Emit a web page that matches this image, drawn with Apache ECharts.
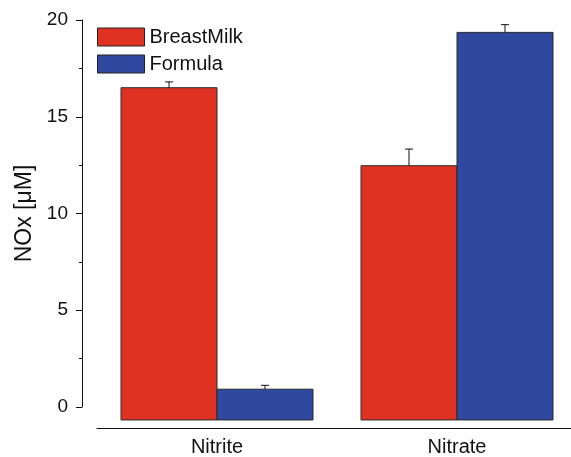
<!DOCTYPE html>
<html>
<head>
<meta charset="utf-8">
<script src="https://cdn.jsdelivr.net/npm/echarts@6/dist/echarts.min.js"></script>
<style>
    html, body { margin: 0; padding: 0; background: #fff; }
    #chart { width: 571px; height: 457px; }
</style>
</head>
<body>
<div id="chart"></div>
<script>
// 数据
const categories = ['Nitrite', 'Nitrate']
const seriesNames = ['BreastMilk', 'Formula']
const breastMilk = [16.5, 12.47]
const breastMilkErr = [0.3, 0.86]
const formula = [0.92, 19.36]
const formulaErr = [0.2, 0.4]
const yTicks = [0, 5, 10, 15, 20]
// bars start a bit below zero, like the original plot
const barBase = -0.67

const colors = ['#DF3223', '#3048A0']
const fontFamily = 'Liberation Sans, Arial, sans-serif'

// 绘制柱子 + 误差线
function makeRender(side, errs) {
    return function (params, api) {
        const idx = api.value(0)
        const val = api.value(1)
        const band = api.size([1, 0])[0]
        const w = band * 0.4
        const center = api.coord([idx, 0])[0]
        const x0 = side === 0 ? center - w : center
        const top = api.coord([idx, val])[1]
        const bottom = api.coord([idx, barBase])[1]
        const errTop = api.coord([idx, val + errs[idx]])[1]
        const mid = x0 + w / 2
        return {
            type: 'group',
            children: [
                {
                    type: 'rect',
                    shape: { x: x0, y: top, width: w, height: bottom - top },
                    style: { fill: colors[side], stroke: '#2a2a2a', lineWidth: 1 }
                },
                {
                    type: 'line',
                    shape: { x1: mid, y1: top, x2: mid, y2: errTop },
                    style: { stroke: '#111', lineWidth: 1 }
                },
                {
                    type: 'line',
                    shape: { x1: mid - 4, y1: errTop, x2: mid + 4, y2: errTop },
                    style: { stroke: '#111', lineWidth: 1 }
                }
            ]
        }
    }
}

let myChart = echarts.init(document.getElementById('chart'))

let option = {
    animation: false,
    grid: {
        left: 97,
        width: 480,
        top: 20,
        bottom: 50,
        outerBoundsMode: 'none'
    },
    legend: {
        orient: 'vertical',
        left: 92,
        top: 22,
        itemWidth: 47,
        itemHeight: 18,
        itemGap: 7,
        icon: 'rect',
        data: seriesNames,
        itemStyle: { borderColor: '#222', borderWidth: 1 },
        textStyle: {
            fontSize: 20,
            color: '#111',
            fontFamily: fontFamily
        }
    },
    xAxis: {
        type: 'category',
        data: categories,
        offset: 21,
        axisLine: { onZero: false, lineStyle: { color: '#111', width: 1 } },
        axisTick: { alignWithLabel: true, length: 7, lineStyle: { color: '#111' } },
        axisLabel: { color: '#111', fontSize: 20, fontFamily: fontFamily, margin: 9 },
        splitLine: { show: false }
    },
    yAxis: {
        type: 'value',
        min: yTicks[0],
        max: yTicks[yTicks.length - 1],
        interval: 5,
        offset: 15,
        name: 'NOx [μM]',
        nameLocation: 'middle',
        nameGap: 45,
        nameTextStyle: { color: '#111', fontSize: 23, fontFamily: fontFamily },
        axisLine: { show: true, lineStyle: { color: '#111', width: 1 } },
        axisTick: { show: true, length: 6, lineStyle: { color: '#111' } },
        minorTick: { show: true, splitNumber: 2, length: 3, lineStyle: { color: '#111' } },
        axisLabel: { color: '#111', fontSize: 19, fontFamily: fontFamily, margin: 14 },
        splitLine: { show: false }
    },
    series: [
        {
            name: seriesNames[0],
            type: 'custom',
            clip: false,
            itemStyle: { color: colors[0] },
            encode: { x: 0, y: 1 },
            data: breastMilk.map((v, i) => [i, v]),
            renderItem: makeRender(0, breastMilkErr)
        },
        {
            name: seriesNames[1],
            type: 'custom',
            clip: false,
            itemStyle: { color: colors[1] },
            encode: { x: 0, y: 1 },
            data: formula.map((v, i) => [i, v]),
            renderItem: makeRender(1, formulaErr)
        }
    ]
}

myChart.setOption(option)
</script>
</body>
</html>
